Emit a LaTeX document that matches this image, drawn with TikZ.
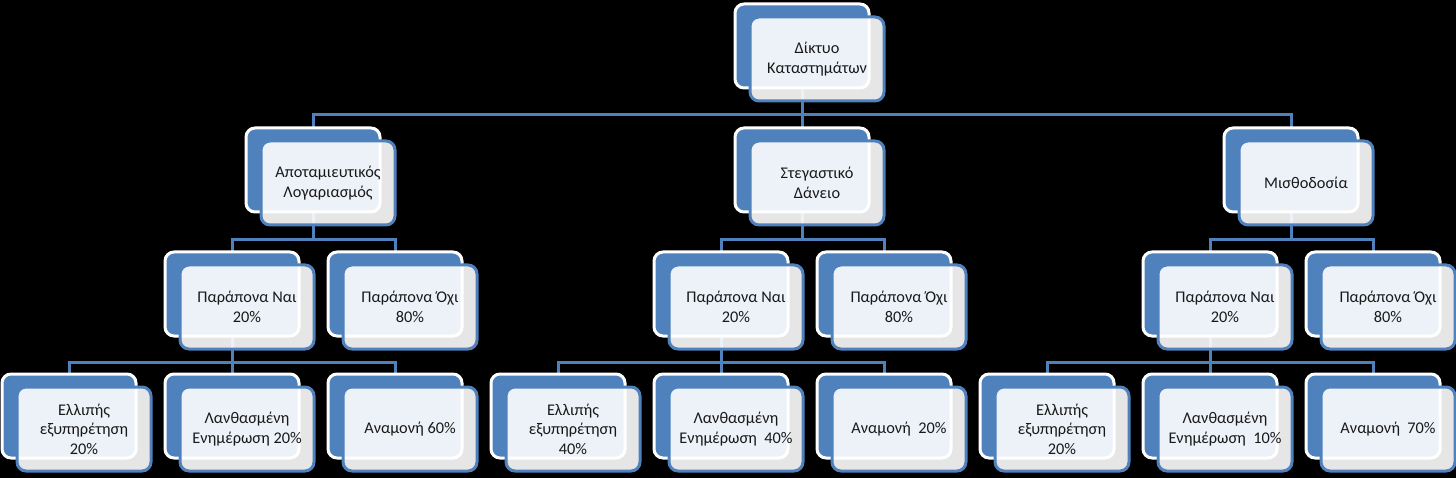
\documentclass[tikz,border=0pt]{standalone}
\usepackage{fontspec}
\setmainfont{Carlito}
\pgfdeclarelayer{bgfill}
\pgfdeclarelayer{bg}
\pgfsetlayers{bgfill,bg,main}
\definecolor{myblue}{HTML}{4F81BD}
\tikzset{
  backbox/.style={draw=white, line width=3pt, fill=myblue, rounded corners=9pt,
    minimum width=134pt, minimum height=84pt, anchor=north west, inner sep=0pt, outer sep=0pt},
  frontbox/.style={draw=myblue, line width=3pt, fill=white, fill opacity=0.9, text opacity=1,
    rounded corners=9pt, minimum width=134pt, minimum height=84pt, anchor=north west,
    inner sep=1pt, outer sep=0pt, align=center, text=black!90,
    font=\fontsize{16.3}{19.5}\selectfont},
  conn/.style={draw=myblue, line width=3pt}
}
\newcommand\elem[4]{%
  \node[backbox] (#1) at (#2,#3) {};
  \node[frontbox] (#1f) at ({#2+15},{#3+13}) {#4};}
\begin{document}
\begin{tikzpicture}[x=1pt,y=-1pt]
\begin{pgfonlayer}{bgfill}
\fill[black] (0,0) rectangle (1456,478);
\end{pgfonlayer}
\useasboundingbox (0,0) rectangle (1456,478);
% top
\elem{top}{735}{4}{Δίκτυο\\Καταστημάτων}
% level 1
\elem{sav}{246}{128}{Αποταμιευτικός\\Λογαριασμός}
\elem{loan}{735}{128}{Στεγαστικό\\Δάνειο}
\elem{pay}{1224}{128}{Μισθοδοσία}
% level 2
\elem{savy}{165}{252}{Παράπονα Ναι\\20\%}
\elem{savn}{328}{252}{Παράπονα Όχι\\80\%}
\elem{loany}{654}{252}{Παράπονα Ναι\\20\%}
\elem{loann}{817}{252}{Παράπονα Όχι\\80\%}
\elem{payy}{1143}{252}{Παράπονα Ναι\\20\%}
\elem{payn}{1306}{252}{Παράπονα Όχι\\80\%}
% level 3
\elem{sava}{2}{374}{Ελλιπής\\εξυπηρέτηση\\20\%}
\elem{savb}{165}{374}{Λανθασμένη\\Ενημέρωση 20\%}
\elem{savc}{328}{374}{Αναμονή 60\%}
\elem{loana}{491}{374}{Ελλιπής\\εξυπηρέτηση\\40\%}
\elem{loanb}{654}{374}{Λανθασμένη\\Ενημέρωση~~40\%}
\elem{loanc}{817}{374}{Αναμονή~~20\%}
\elem{paya}{980}{374}{Ελλιπής\\εξυπηρέτηση\\20\%}
\elem{payb}{1143}{374}{Λανθασμένη\\Ενημέρωση~~10\%}
\elem{payc}{1306}{374}{Αναμονή~~70\%}
% connectors
\begin{pgfonlayer}{bg}
\coordinate (b0) at (0,115);
\coordinate (b1) at (0,240);
\coordinate (b2) at (0,362);
\foreach \c in {sav,loan,pay}{\draw[conn] (top.south) -- (top.south |- b0) -| (\c.north);}
\foreach \p in {sav,loan,pay}{
  \draw[conn] (\p.south) -- (\p.south |- b1) -| (\p y.north);
  \draw[conn] (\p.south |- b1) -| (\p n.north);
  \draw[conn] (\p y.south) -- (\p y.south |- b2) -| (\p a.north);
  \draw[conn] (\p y.south |- b2) -| (\p b.north);
  \draw[conn] (\p y.south |- b2) -| (\p c.north);
}
\end{pgfonlayer}
\end{tikzpicture}
\end{document}
